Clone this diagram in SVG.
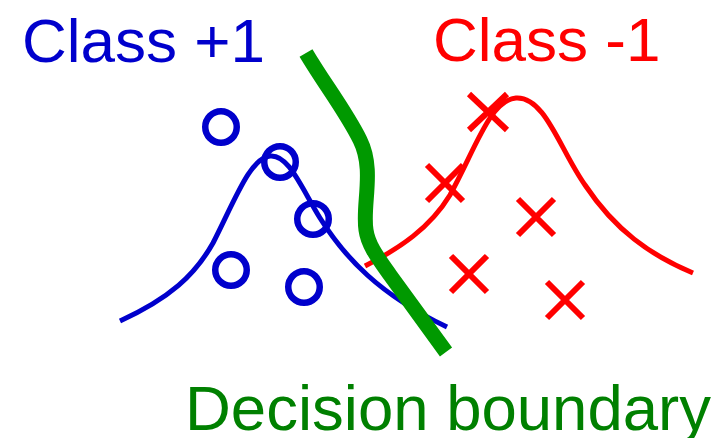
<svg xmlns="http://www.w3.org/2000/svg" width="722" height="438" viewBox="0 0 722 438">
<style>
.lbl{font-family:"Liberation Sans",Arial,sans-serif;font-size:62px}
.blue{fill:none;stroke:#0000CC;stroke-width:5}
.dot{fill:none;stroke:#0000CC;stroke-width:6.5}
.red{fill:none;stroke:#FF0000;stroke-width:5}
.x{fill:none;stroke:#FF0000;stroke-width:6;stroke-linecap:butt}
</style>
<rect width="722" height="438" fill="#FFFFFF"/>
<g id="class-plus">
<path class="blue" d="M120,321 C170,298 195,275 213,243 C235,200 250,158 270,156 C288,154 300,185 320,218 C345,258 380,295 447,327"/>
<circle class="dot" cx="221" cy="127" r="15.75"/>
<circle class="dot" cx="280" cy="162" r="15.75"/>
<circle class="dot" cx="313" cy="219" r="15.75"/>
<circle class="dot" cx="231" cy="270" r="15.75"/>
<circle class="dot" cx="304" cy="287" r="15.75"/>
<text class="lbl" x="22" y="62" fill="#0000CC">Class +1</text>
</g>
<g id="class-minus">
<path class="red" d="M365,266 C400,248 430,228 450,195 C475,150 490,100 516,98 C545,96 560,150 585,185 C615,230 650,255 693,273"/>
<path class="x" d="M469,94 L507,130 M469,130 L507,94"/>
<path class="x" d="M427,165 L463,201 M427,201 L463,165"/>
<path class="x" d="M518,199 L554,235 M518,235 L554,199"/>
<path class="x" d="M451,256 L487,292 M451,292 L487,256"/>
<path class="x" d="M547,282 L583,318 M547,318 L583,282"/>
<text class="lbl" x="433" y="61" fill="#FF0000">Class -1</text>
</g>
<g id="boundary">
<path d="M306,53 C325,85 345,110 360,140 C375,170 362,205 366,230 C368,245 378,258 390,275 L446,352" fill="none" stroke="#009900" stroke-width="15"/>
<text class="lbl" x="185" y="430" fill="#008000" style="font-size:63.5px">Decision boundary</text>
</g>
</svg>
